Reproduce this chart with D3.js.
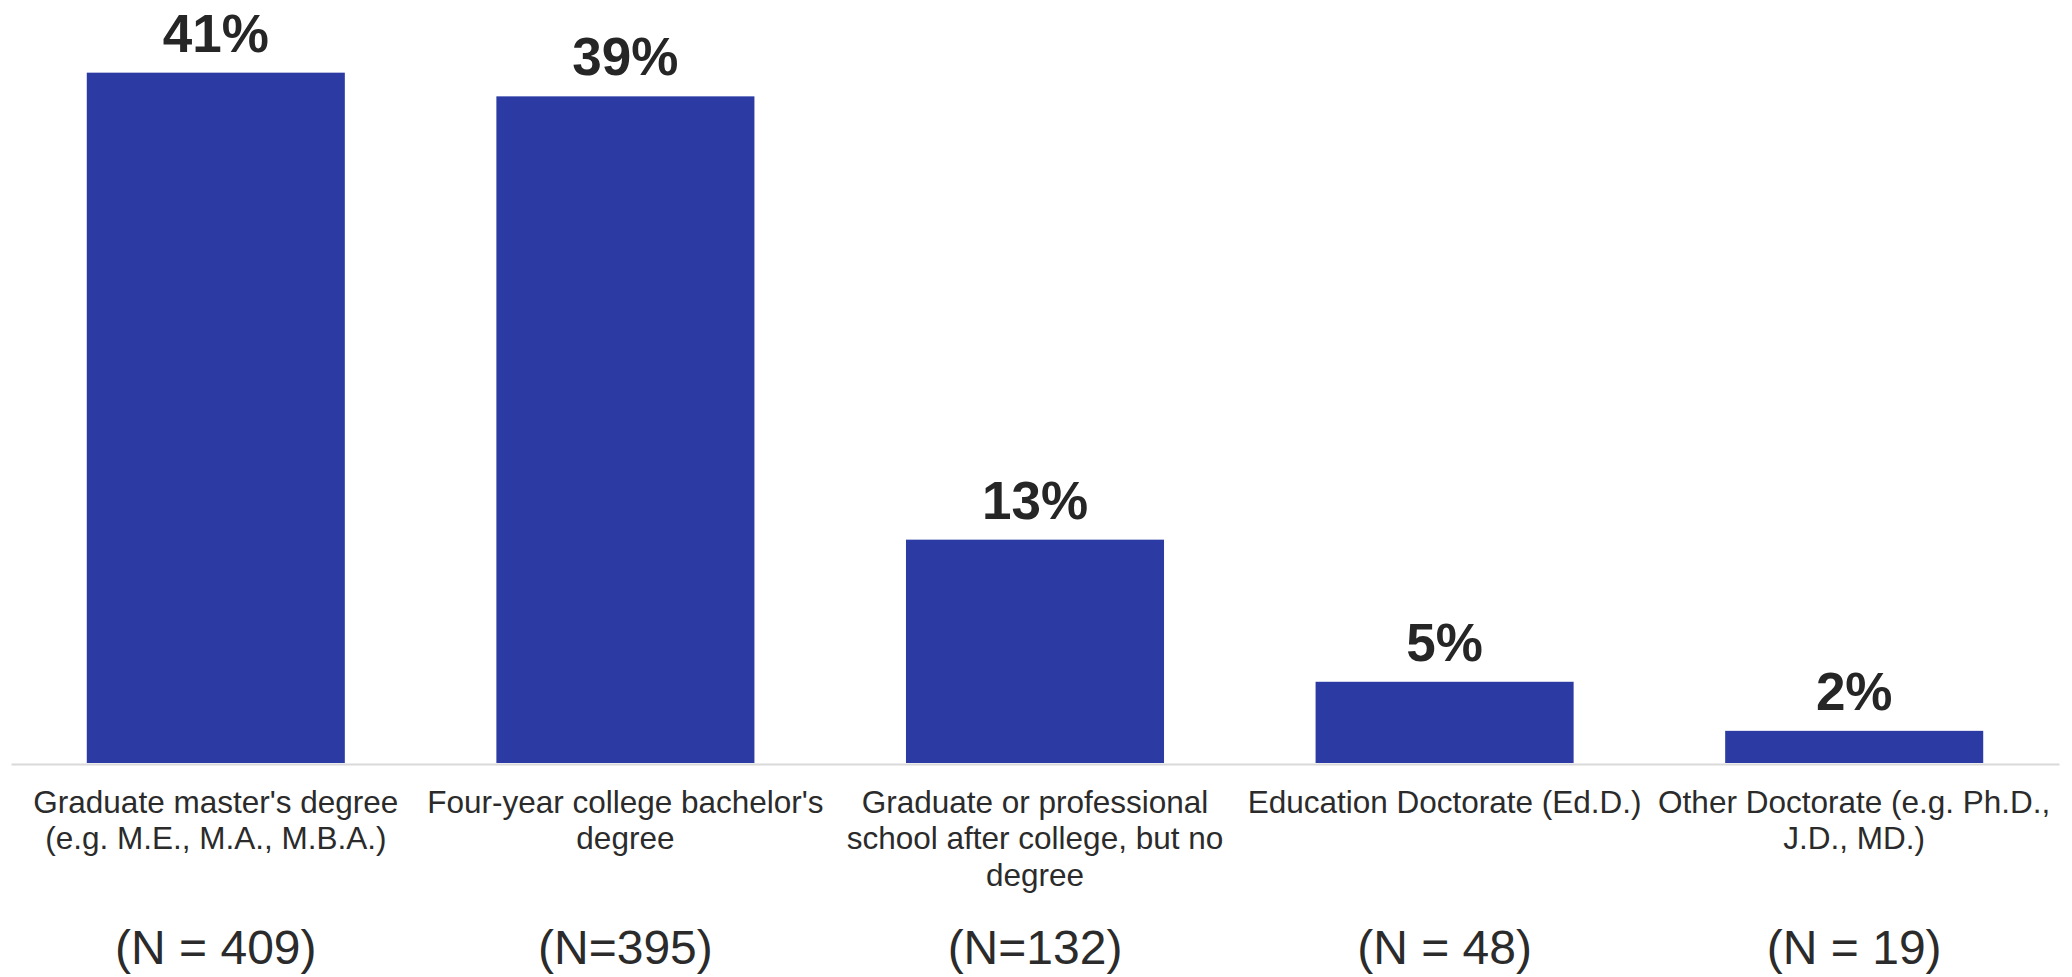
<!DOCTYPE html>
<html>
<head>
<meta charset="utf-8">
<script src="https://cdn.jsdelivr.net/npm/d3@7"></script>
<style>
  html, body { margin: 0; padding: 0; background: #ffffff; }
  svg { display: block; }
  text { font-family: "Liberation Sans", Arial, sans-serif; }
</style>
</head>
<body>
<svg id="chart" width="2072" height="977"></svg>
<script>
// ---- Data ----
const categories = [
  "Graduate master's degree (e.g. M.E., M.A., M.B.A.)",
  "Four-year college bachelor's degree",
  "Graduate or professional school after college, but no degree",
  "Education Doctorate (Ed.D.)",
  "Other Doctorate (e.g. Ph.D., J.D., MD.)"
];
const categoryLines = [
  ["Graduate master's degree", "(e.g. M.E., M.A., M.B.A.)"],
  ["Four-year college bachelor's", "degree"],
  ["Graduate or professional", "school after college, but no", "degree"],
  ["Education Doctorate (Ed.D.)"],
  ["Other Doctorate (e.g. Ph.D.,", "J.D., MD.)"]
];
const percentValues = [40.8, 39.4, 13.2, 4.8, 1.9];
const sampleLabels = ["(N = 409)", "(N=395)", "(N=132)", "(N = 48)", "(N = 19)"];

// ---- Layout ----
const svg = d3.select("#chart");
const baseline = 763;
const x = d3.scaleBand()
  .domain(categories)
  .range([11, 2059])
  .paddingInner(0.37)
  .paddingOuter(0.185);
const y = d3.scaleLinear()
  .domain([0, 45])
  .range([baseline, baseline - 45 * 16.92]);

const data = categories.map((c, i) => ({
  cat: c, value: percentValues[i], lines: categoryLines[i], n: sampleLabels[i]
}));

// Bars
svg.append("g").selectAll("rect")
  .data(data)
  .join("rect")
  .attr("x", d => x(d.cat))
  .attr("y", d => y(d.value))
  .attr("width", x.bandwidth())
  .attr("height", d => y(0) - y(d.value))
  .attr("fill", "#2C3BA4");

// Axis line (category axis without ticks)
const axis = d3.axisBottom(x).tickSize(0).tickFormat("");
const axisG = svg.append("g")
  .attr("transform", `translate(0,${baseline + 1})`)
  .call(axis);
axisG.select(".domain")
  .attr("stroke", "#d9d9d9")
  .attr("stroke-width", 2);

// Value labels
const fmt = d3.format(".0f");
svg.append("g").selectAll("text")
  .data(data)
  .join("text")
  .attr("x", d => x(d.cat) + x.bandwidth() / 2)
  .attr("y", d => y(d.value) - 21)
  .attr("text-anchor", "middle")
  .attr("font-size", 53)
  .attr("font-weight", "bold")
  .attr("fill", "#262626")
  .text(d => fmt(d.value) + "%");

// Category labels
const catG = svg.append("g").selectAll("text")
  .data(data)
  .join("text")
  .attr("x", d => x(d.cat) + x.bandwidth() / 2)
  .attr("y", 812.7)
  .attr("text-anchor", "middle")
  .attr("font-size", 31.5)
  .attr("fill", "#2b2b2b");
catG.selectAll("tspan")
  .data(d => d.lines.map(l => ({ l, cx: x(d.cat) + x.bandwidth() / 2 })))
  .join("tspan")
  .attr("x", t => t.cx)
  .attr("dy", (t, i) => i === 0 ? 0 : 36.5)
  .text(t => t.l);

// Sample size labels
svg.append("g").selectAll("text")
  .data(data)
  .join("text")
  .attr("x", d => x(d.cat) + x.bandwidth() / 2)
  .attr("y", 964)
  .attr("text-anchor", "middle")
  .attr("font-size", 48)
  .attr("fill", "#2b2b2b")
  .text(d => d.n);
</script>
</body>
</html>
